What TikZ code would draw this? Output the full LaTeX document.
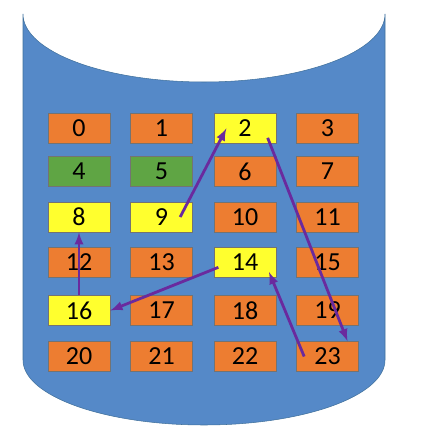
\documentclass[tikz,border=0pt]{standalone}
\usepackage{fontspec}
\setmainfont{Carlito}
\usetikzlibrary{calc}

\definecolor{drum}{HTML}{5589C8}
\definecolor{drumedge}{HTML}{41719C}
\definecolor{orng}{HTML}{ED7D31}
\definecolor{grn}{HTML}{5FA544}
\definecolor{yel}{HTML}{FFFF2E}
\definecolor{hop}{HTML}{6A2A9E}

\tikzset{
  cell/.style={draw=black!55,line width=0.5pt,minimum width=46.5pt,minimum height=22.5pt,inner sep=0pt,font=\fontsize{19.5}{22}\selectfont},
  hopline/.style={line width=2.1pt,-latex,hop}
}

\begin{document}
\begin{tikzpicture}[x=0.75pt,y=0.75pt]
\useasboundingbox (0,0) rectangle (425,432);

% the disk
\fill[drum,draw=drumedge,line width=0.4pt] (23,418) -- (23,72)
    arc[start angle=180,end angle=360,x radius=181,y radius=65]
    -- (385,418)
    arc[start angle=0,end angle=-180,x radius=181,y radius=68] -- cycle;

% blocks
\foreach \fc [count=\i from 0] in {orng,orng,yel,orng, grn,grn,orng,orng,
    yel,yel,orng,orng, orng,orng,yel,orng, yel,orng,orng,orng,
    orng,orng,orng,orng}
	{
	\pgfmathtruncatemacro{\c}{mod(\i,4)}
	\pgfmathtruncatemacro{\r}{int(\i/4)}
	\pgfmathsetmacro{\x}{{79,161.5,245,327.5}[\c]}
	\pgfmathsetmacro{\y}{{303.5,260.5,215,170,121.5,75.5}[\r]}
	\node[cell,fill=\fc] (n\i) at (\x,\y) {\i};
	}

% seek order
\draw[hopline] ([xshift=14pt]n9.center) -- ([xshift=-14pt]n2.center);
\draw[hopline] ([xshift=17pt,yshift=-7pt]n2.center) -- ([xshift=15pt]n23.north);
\draw[hopline] ([xshift=-17.5pt]n23.center) -- ([xshift=18pt,yshift=-7.5pt]n14.center);
\draw[hopline] ([xshift=-20pt,yshift=-4pt]n14.center) -- (n16.east);
\draw[hopline] (n16.north) -- (n8.south);
\end{tikzpicture}
\end{document}
